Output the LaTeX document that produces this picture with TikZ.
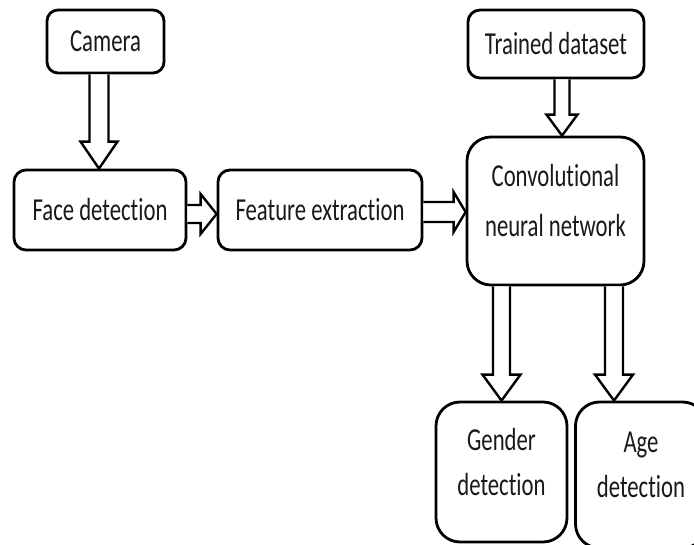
\documentclass[tikz,border=0pt]{standalone}
\usepackage{fontspec}
\setmainfont{Carlito}[FakeStretch=0.71, Ligatures=NoCommon]
\usetikzlibrary{calc}
\tikzset{
  box/.style={draw=black, line width=2.8pt, rounded corners=#1, align=center,
    inner sep=0pt, text=black!90, font=\fontsize{32}{45}\selectfont},
  box/.default=11pt,
  raised/.style={text depth=21pt},
  blk/.style={draw=black, line width=2.4pt, line join=miter, fill=white}
}
% vertical block arrow: src, tgt, cx, half shaft, half head, head length
\newcommand\vblk[6]{%
  \draw[blk] let \p1=(#1.south), \p2=(#2.north) in
   (#3pt-#4pt,\y1) -- (#3pt-#4pt,\y2+#6pt) -- (#3pt-#5pt,\y2+#6pt) -- (#3pt,\y2)
   -- (#3pt+#5pt,\y2+#6pt) -- (#3pt+#4pt,\y2+#6pt) -- (#3pt+#4pt,\y1);}
% horizontal block arrow: src, tgt, cy, half shaft, half head, head length
\newcommand\hblk[6]{%
  \draw[blk] let \p1=(#1.east), \p2=(#2.west) in
   (\x1,-#3pt+#4pt) -- (\x2-#6pt,-#3pt+#4pt) -- (\x2-#6pt,-#3pt+#5pt) -- (\x2,-#3pt)
   -- (\x2-#6pt,-#3pt-#5pt) -- (\x2-#6pt,-#3pt-#4pt) -- (\x1,-#3pt-#4pt);}
\begin{document}
\begin{tikzpicture}[x=1pt,y=-1pt]
\path[use as bounding box] (0,0) rectangle (694,545);
\clip (0,0) rectangle (694,545);
\fill[white] (0,0) rectangle (694,545);

\node[box, minimum width=117pt, minimum height=63pt] (cam) at (105.5,41.5) {Camera};
\node[box=12pt, minimum width=172pt, minimum height=80pt] (face) at (100,210) {Face detection};
\node[box=12pt, minimum width=204pt, minimum height=80pt] (feat) at (320,210) {Feature extraction};
\node[box=12pt, minimum width=176pt, minimum height=68pt] (td) at (556,44) {Trained dataset};
\node[box=24pt, raised, minimum width=177pt, minimum height=148pt] (cnn) at (555.5,211) {Convolutional\\[5pt]neural network};
\node[box=24pt, raised, minimum width=131pt, minimum height=140pt] (gen) at (501.5,472) {Gender\\detection};
\node[box=24pt, raised, minimum width=131pt, minimum height=146pt] (age) at (641,475) {Age\\detection};

\vblk{cam}{face}{99}{9.5}{18.5}{27}
\vblk{td}{cnn}{562}{7.5}{15.5}{21}
\vblk{cnn}{gen}{501.5}{8.5}{19}{26}
\vblk{cnn}{age}{614}{9}{19}{26}
\hblk{face}{feat}{214}{9}{20}{16}
\hblk{feat}{cnn}{212}{10}{20}{12}
\end{tikzpicture}
\end{document}
